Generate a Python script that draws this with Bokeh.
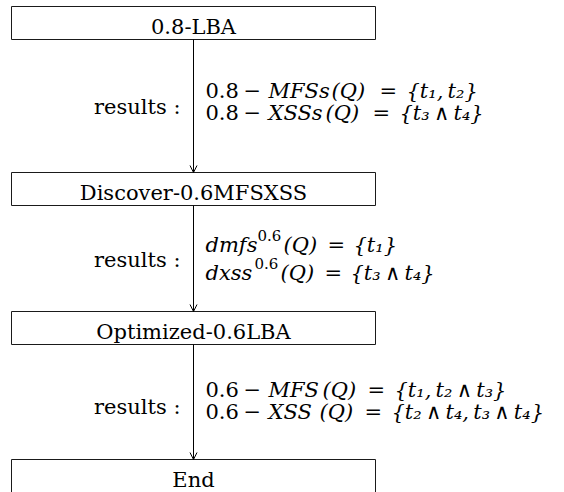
from bokeh.plotting import figure
from bokeh.models import Range1d, Arrow, OpenHead, ColumnDataSource
from bokeh.core.properties import value
from bokeh.embed import file_html
from bokeh.resources import INLINE

TS = "\u2009"  # thin space
AND = TS + "\u2227" + TS

# ---- content ----
box_labels = ["0.8-LBA", "Discover-0.6MFSXSS", "Optimized-0.6LBA", "End"]
result_label = "results :"
# each results block: list of lines; each line: list of (text, style)
results_blocks = [
    [[("0.8", "normal"), ("\u2212", "normal"), ("MFSs", "italic"), ("(Q)", "italic"),
      ("=", "normal"), ("{t\u2081," + TS + "t\u2082}", "italic")],
     [("0.8", "normal"), ("\u2212", "normal"), ("XSSs", "italic"), ("(Q)", "italic"),
      ("=", "normal"), ("{t\u2083" + AND + "t\u2084}", "italic")]],
    [[("dmfs", "italic"), ("0.6", "sup"), ("(Q)", "italic"),
      ("=", "normal"), ("{t\u2081}", "italic")],
     [("dxss", "italic"), ("0.6", "sup"), ("(Q)", "italic"),
      ("=", "normal"), ("{t\u2083" + AND + "t\u2084}", "italic")]],
    [[("0.6", "normal"), ("\u2212", "normal"), ("MFS", "italic"), ("(Q)", "italic"),
      ("=", "normal"), ("{t\u2081," + TS + "t\u2082" + AND + "t\u2083}", "italic")],
     [("0.6", "normal"), ("\u2212", "normal"), ("XSS", "italic"), ("(Q)", "italic"),
      ("=", "normal"), ("{t\u2082" + AND + "t\u2084," + TS + "t\u2083" + AND + "t\u2084}", "italic")]],
]

# ---- layout (pixel coordinates, y downward) ----
box_left, box_right = 11, 375
box_tops = [6, 172, 311, 459]
box_h = 33
arrow_x = 193
label_right = 180
line_baselines = [[96, 118], [250, 278], [395, 417]]
result_baselines = [112, 265, 412]
seg_x = [
    [[205, 243, 268, 331, 379, 406], [205, 243, 268, 325, 372, 399]],
    [[205, 257, 283, 327, 353], [205, 254, 280, 324, 350]],
    [[205, 243, 268, 322, 367, 394], [205, 243, 268, 319, 364, 391]],
]
SHIFT = -6  # renderer baseline correction
FONT = "DejaVu Serif"
FS = "21px"
SUP_FS = "15px"

p = figure(width=564, height=492, output_backend="svg", toolbar_location=None,
           x_range=Range1d(0, 564), y_range=Range1d(492, 0), min_border=0)
p.axis.visible = False
p.grid.visible = False
p.outline_line_color = None
p.background_fill_color = "white"
p.border_fill_color = "white"

# boxes
tops = box_tops
bottoms = [t + box_h for t in box_tops]
bottoms[-1] = 492  # last box is cut off at the bottom
p.quad(left=[box_left] * 4, right=[box_right] * 4, top=tops, bottom=bottoms,
       fill_color="white", line_color="#1a1a1a", line_width=1)

# box labels
p.text(x=[(box_left + box_right) / 2] * 4, y=[t + 26 + SHIFT for t in box_tops], text=box_labels,
       text_align="center", text_baseline="alphabetic",
       text_font=value(FONT), text_font_size=value(FS), text_color="black")

# arrows
for i in range(3):
    p.add_layout(Arrow(end=OpenHead(size=7, line_width=1, line_color="black"),
                       x_start=arrow_x, y_start=box_tops[i] + box_h,
                       x_end=arrow_x, y_end=box_tops[i + 1],
                       line_color="black", line_width=1))

# "results :" labels
p.text(x=[label_right] * 3, y=[b + SHIFT for b in result_baselines], text=[result_label] * 3,
       text_align="right", text_baseline="alphabetic",
       text_font=value(FONT), text_font_size=value(FS), text_color="black")

# results lines
rows = {"normal": dict(x=[], y=[], t=[]), "italic": dict(x=[], y=[], t=[]), "sup": dict(x=[], y=[], t=[])}
for bi, block in enumerate(results_blocks):
    for li, line in enumerate(block):
        for si, (txt, style) in enumerate(line):
            y = line_baselines[bi][li] + SHIFT
            if style == "sup":
                y -= 9
            rows[style]["x"].append(seg_x[bi][li][si])
            rows[style]["y"].append(y)
            rows[style]["t"].append(txt)

for style, d in rows.items():
    src = ColumnDataSource(dict(x=d["x"], y=d["y"], t=d["t"]))
    p.text(x="x", y="y", text="t", source=src, text_align="left", text_baseline="alphabetic",
           text_font=value(FONT),
           text_font_size=value(SUP_FS if style == "sup" else FS),
           text_font_style="italic" if style == "italic" else "normal",
           text_color="black")

open("out.html", "w").write(file_html(p, INLINE))
